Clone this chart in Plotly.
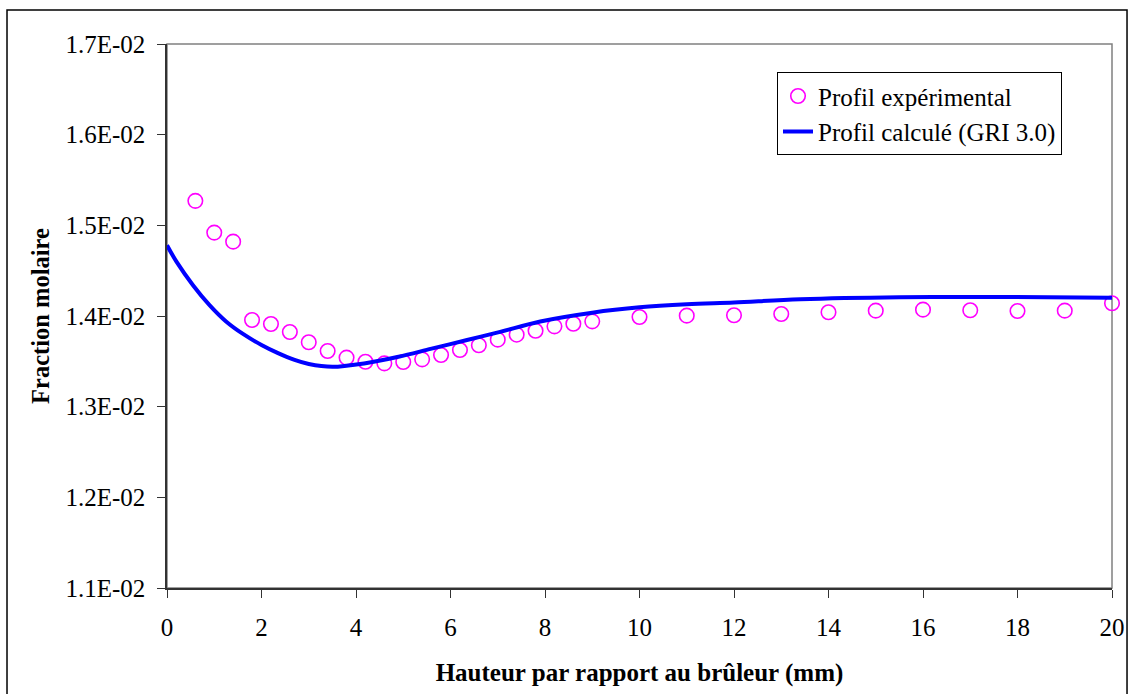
import plotly.graph_objects as go

# Experimental profile (open circles)
exp_x = [0.6, 1.0, 1.4, 1.8, 2.2, 2.6, 3.0, 3.4, 3.8, 4.2, 4.6, 5.0, 5.4, 5.8,
         6.2, 6.6, 7.0, 7.4, 7.8, 8.2, 8.6, 9.0, 10, 11, 12, 13, 14, 15, 16,
         17, 18, 19, 20]
exp_y = [0.01527, 0.01492, 0.01482, 0.013956, 0.013912, 0.013824, 0.01371,
         0.013614, 0.013541, 0.013496, 0.013478, 0.013493, 0.013522, 0.01357,
         0.013625, 0.013677, 0.013739, 0.013794, 0.013838, 0.013886, 0.013915,
         0.013941, 0.013989, 0.014004, 0.014008, 0.014022, 0.014041, 0.014059,
         0.01407, 0.014063, 0.014055, 0.014059, 0.01414]

# Computed profile (GRI 3.0)
calc_x = [0, 0.2, 0.55, 0.9, 1.25, 1.6, 2.0, 2.35, 2.7, 3.0, 3.5, 4.2, 4.9,
          5.6, 6.35, 7.05, 7.9, 9.0, 10.0, 11.0, 12.0, 13.4, 15.5, 17.6, 20.0]
calc_y = [0.01478, 0.01460, 0.01434, 0.01412, 0.01394, 0.013805, 0.01368,
          0.01359, 0.013515, 0.01347, 0.01344, 0.01348, 0.01355, 0.01364,
          0.013735, 0.013825, 0.01394, 0.014037, 0.014096, 0.01413, 0.01415,
          0.014184, 0.014206, 0.01421, 0.01420]

y_tickvals = [0.011, 0.012, 0.013, 0.014, 0.015, 0.016, 0.017]
y_ticktext = ["1.1E-02", "1.2E-02", "1.3E-02", "1.4E-02", "1.5E-02", "1.6E-02", "1.7E-02"]
x_tickvals = [0, 2, 4, 6, 8, 10, 12, 14, 16, 18, 20]

FONT = "Liberation Serif"

fig = go.Figure()
fig.add_trace(go.Scatter(
    x=exp_x, y=exp_y, mode="markers", name="Profil expérimental",
    marker=dict(symbol="circle-open", size=14.5, color="#FF00FF",
                line=dict(width=1.6, color="#FF00FF")),
    cliponaxis=False,
))
fig.add_trace(go.Scatter(
    x=calc_x, y=calc_y, mode="lines", name="Profil calculé (GRI 3.0)",
    line=dict(color="#0000FF", width=4, shape="spline", smoothing=1.0),
))

fig.update_layout(
    width=1129, height=694,
    margin=dict(l=167, r=17, t=44, b=106),
    paper_bgcolor="white", plot_bgcolor="white",
    font=dict(family=FONT, size=25, color="black"),
    showlegend=True,
    legend=dict(
        x=0.6455, y=0.948, xanchor="left", yanchor="top",
        bgcolor="white", bordercolor="black", borderwidth=1,
        font=dict(family=FONT, size=25, color="black"),
        tracegroupgap=0, itemwidth=30,
    ),
    xaxis=dict(
        range=[0, 20], tickvals=x_tickvals, ticks="outside", ticklen=8,
        tickcolor="#333333", showline=True, linecolor="#333333", linewidth=1.5,
        showgrid=False, zeroline=False, automargin=False,
        ticklabelstandoff=8,
        tickfont=dict(family=FONT, size=25),
        title=dict(text="<b>Hauteur par rapport au brûleur (mm)</b>",
                   font=dict(family=FONT, size=25), standoff=24),
    ),
    yaxis=dict(
        range=[0.011, 0.017], tickvals=y_tickvals, ticktext=y_ticktext,
        ticks="outside", ticklen=8, tickcolor="#333333",
        showline=True, linecolor="#333333", linewidth=1.5,
        showgrid=False, zeroline=False, automargin=False,
        ticklabelstandoff=7,
        tickfont=dict(family=FONT, size=25),
        title=dict(text="<b>Fraction molaire</b>",
                   font=dict(family=FONT, size=24.5), standoff=9),
    ),
    shapes=[
        # plot-area frame (grey, top/right visible)
        dict(type="rect", xref="paper", yref="paper", x0=0, y0=0, x1=1, y1=1,
             line=dict(color="#808080", width=1.5), layer="below"),
        # outer chart border
        dict(type="rect", xref="paper", yref="paper",
             x0=-0.1693, x1=1.0159, y0=-0.21, y1=1.0625,
             line=dict(color="black", width=1.5), layer="above"),
    ],
)

fig.write_html(
    "out.html",
    config={"displayModeBar": False},
    post_script="document.body.style.margin='0';document.body.style.overflow='hidden';",
)
